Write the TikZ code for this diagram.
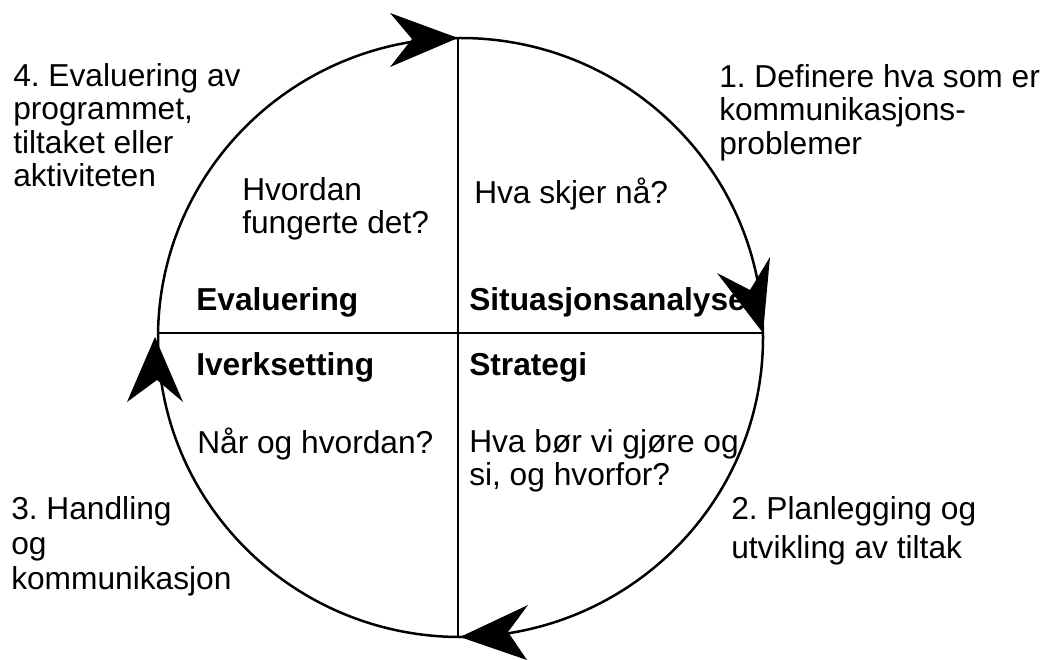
\documentclass[tikz,border=0pt]{standalone}
\usepackage{fontspec}
\setmainfont{Liberation Sans}
\frenchspacing
\begin{document}
\begin{tikzpicture}[x=1pt,y=-1pt,line width=2.5pt,
  lbl/.style={inner sep=0pt,font=\fontsize{31.7}{33.4}\selectfont,align=left},
  bold/.style={inner sep=0pt,font=\fontsize{31.7}{33.4}\selectfont\bfseries,align=left},
  head/.style={fill=black,draw=none}]
\useasboundingbox (0,0) rectangle (1044,660);
% circle and axes
\coordinate (T) at (458,38);
\coordinate (B) at (458,637);
\coordinate (L) at (158,333);
\coordinate (R) at (763,333);
\draw (460.5,337.5) ellipse [x radius=302.5pt,y radius=299.5pt];
\draw (T) -- (B);
\draw (L) -- (R);
% arrowheads
\fill[head] (458,38) -- (390,13) -- (412,39) -- (390,67) -- cycle;
\fill[head] (763,333) -- (717,273) -- (750,290) -- (770,257) -- cycle;
\fill[head] (460,637) -- (528,605) -- (508,632) -- (527,660) -- cycle;
\fill[head] (155,337) -- (127,402) -- (157,380) -- (183,402) -- cycle;
% outer texts
\node[lbl,anchor=north west] (t4) at (12,62) {4. Evaluering av\\programmet,\\tiltaket eller\\aktiviteten};
\node[lbl,anchor=north west] (t1) at (718,63) {1. Definere hva som er\\kommunikasjons-\\problemer};
\node[lbl,anchor=north west,font=\fontsize{31.7}{35}\selectfont] (t3) at (10,495) {3. Handling\\og\\kommunikasjon};
\node[lbl,anchor=north west,font=\fontsize{31.7}{39}\selectfont] (t2) at (730,495) {2. Planlegging og\\utvikling av tiltak};
% quadrant texts
\node[lbl,anchor=north west] (q4) at (241,176) {Hvordan\\fungerte det?};
\node[lbl,anchor=base west] (q1) at (473,204) {Hva skjer nå?};
\node[bold,anchor=base west] (e) at (195,311) {Evaluering};
\node[bold,anchor=base west] (s) at (468,311) {Situasjonsanalyse};
\node[bold,anchor=base west] (i) at (195,375) {Iverksetting};
\node[bold,anchor=base west] (st) at (468,375) {Strategi};
\node[lbl,anchor=base west] (q3) at (196,453) {Når og hvordan?};
\node[lbl,anchor=north west] (q2) at (468,428) {Hva bør vi gjøre og\\si, og hvorfor?};
\end{tikzpicture}
\end{document}
